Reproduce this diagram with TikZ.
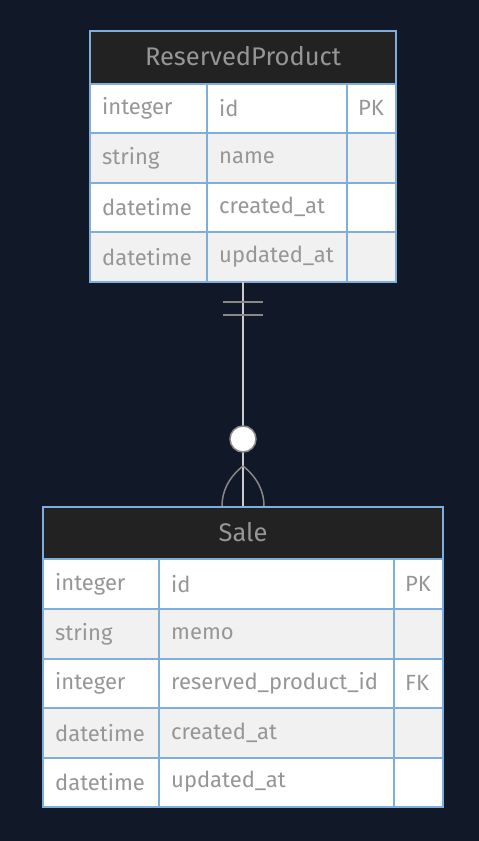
\documentclass[tikz,border=0pt]{standalone}
\usepackage{fontspec}
\setmainfont{Fira Sans}
\begin{document}
\begin{tikzpicture}[x=1pt,y=-1pt,
  bord/.style={draw=bordc,line width=1.3pt},
  hdr/.style={fill=hdrc,draw=bordc,line width=1.3pt},
  rowW/.style={fill=white},
  rowG/.style={fill=rowgc},
  txt/.style={anchor=west,text=txtc,font=\fontsize{22}{26}\selectfont,inner sep=0pt},
  htxt/.style={anchor=center,text=txtc,font=\fontsize{25.5}{30}\selectfont,inner sep=0pt},
  rel/.style={draw=linec,line width=1.5pt},
  relg/.style={draw=tickc,line width=1.5pt}]
\definecolor{bgc}{RGB}{17,24,39}
\definecolor{hdrc}{RGB}{33,34,33}
\definecolor{bordc}{RGB}{128,174,220}
\definecolor{rowgc}{RGB}{241,241,241}
\definecolor{txtc}{RGB}{150,150,150}
\definecolor{linec}{RGB}{204,204,204}
\definecolor{tickc}{RGB}{136,136,136}
\fill[bgc] (0,0) rectangle (479,841);
\useasboundingbox (0,0) rectangle (479,841);

% ---------- ReservedProduct ----------
\fill[rowW] (90,84) rectangle (396,133);
\fill[rowG] (90,133) rectangle (396,183);
\fill[rowW] (90,183) rectangle (396,232);
\fill[rowG] (90,232) rectangle (396,282);
\draw[hdr] (90,31) rectangle (396,84);
\node[htxt] (rpt) at (243,56) {ReservedProduct};
\foreach \y in {133,183,232} \draw[bord] (90,\y) -- (396,\y);
\draw[bord] (207,84) -- (207,282);
\draw[bord] (347,84) -- (347,282);
\draw[bord] (90,31) rectangle (396,282);
\node[txt] (r1a) at (102,108) {integer};
\node[txt] (r1b) at (219,108) {id};
\node[txt] (r1c) at (358,108) {PK};
\node[txt] (r2a) at (102,158) {string};
\node[txt] (r2b) at (219,158) {name};
\node[txt] (r3a) at (102,207) {datetime};
\node[txt] (r3b) at (219,207) {created\_at};
\node[txt] (r4a) at (102,257) {datetime};
\node[txt] (r4b) at (219,257) {updated\_at};
\coordinate (rpbot) at (243,282);

% ---------- Sale ----------
\fill[rowW] (43,559) rectangle (443,609);
\fill[rowG] (43,609) rectangle (443,659);
\fill[rowW] (43,659) rectangle (443,708);
\fill[rowG] (43,708) rectangle (443,758);
\fill[rowW] (43,758) rectangle (443,807);
\draw[hdr] (43,507) rectangle (443,559);
\node[htxt] (st) at (243,532) {Sale};
\foreach \y in {609,659,708,758} \draw[bord] (43,\y) -- (443,\y);
\draw[bord] (159,559) -- (159,807);
\draw[bord] (394,559) -- (394,807);
\draw[bord] (43,507) rectangle (443,807);
\node[txt] (s1a) at (55,584) {integer};
\node[txt] (s1b) at (171,584) {id};
\node[txt] (s1c) at (405,584) {PK};
\node[txt] (s2a) at (55,634) {string};
\node[txt] (s2b) at (171,634) {memo};
\node[txt] (s3a) at (55,683) {integer};
\node[txt] (s3b) at (171,683) {reserved\_product\_id};
\node[txt] (s3c) at (405,683) {FK};
\node[txt] (s4a) at (55,733) {datetime};
\node[txt] (s4b) at (171,733) {created\_at};
\node[txt] (s5a) at (55,782) {datetime};
\node[txt] (s5b) at (171,782) {updated\_at};
\coordinate (stop) at (243,506);

% ---------- relationship ----------
\draw[rel] (rpbot) -- (stop);
\draw[relg] (223,302) -- (263,302);
\draw[relg] (223,315) -- (263,315);
\coordinate (fork) at (243,466);
\draw[relg] (fork) .. controls (228,478) and (222,492) .. (222,506);
\draw[relg] (fork) .. controls (258,478) and (264,492) .. (264,506);
\node[circle,draw=tickc,fill=white,line width=1.5pt,minimum size=26pt,inner sep=0pt] (o) at (243,439) {};
\end{tikzpicture}
\end{document}
